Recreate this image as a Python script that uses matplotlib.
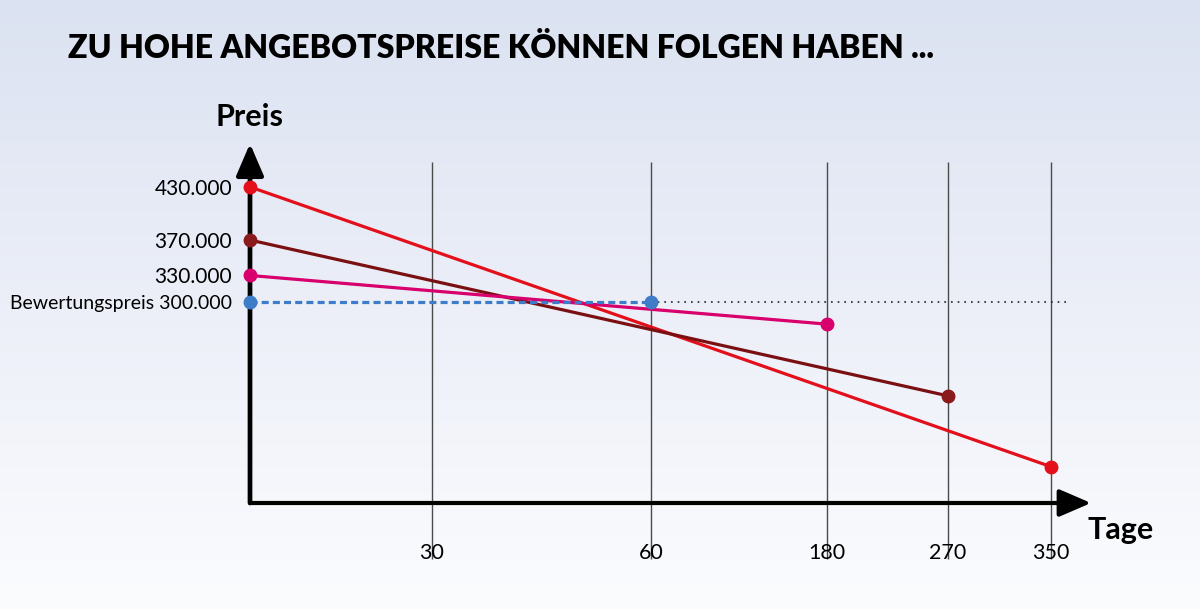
import numpy as np
import matplotlib
matplotlib.use("Agg")
import matplotlib.pyplot as plt
from matplotlib.colors import LinearSegmentedColormap

# ---- data ----
tick_days = [30, 60, 180, 270, 350]
tick_labels = ["30", "60", "180", "270", "350"]
y_ticks = [430, 370, 330, 300]
y_labels = ["430.000", "370.000", "330.000", "Bewertungspreis 300.000"]

red_days = [0, 350];    red_price = [430, 114]
brown_days = [0, 270];  brown_price = [370, 194]
pink_days = [0, 180];   pink_price = [330, 275]
blue_days = [0, 60];    blue_price = [300, 300]
ref_price = 300

# ---- piecewise x scale (schematic spacing) ----
D = np.array([0, 30, 60, 180, 270, 350], float)
P = np.array([0, 182, 401, 577, 698, 801], float)
s0 = (P[1] - P[0]) / (D[1] - D[0])
s1 = (P[-1] - P[-2]) / (D[-1] - D[-2])

def fwd(x):
    x = np.asarray(x, float)
    return np.where(x < 0, x * s0,
                    np.where(x > D[-1], P[-1] + (x - D[-1]) * s1, np.interp(x, D, P)))

def inv(p):
    p = np.asarray(p, float)
    return np.where(p < 0, p / s0,
                    np.where(p > P[-1], D[-1] + (p - P[-1]) / s1, np.interp(p, P, D)))

W, H = 1200, 609
fig = plt.figure(figsize=(12, 6.09), dpi=100)

# background gradient
bg = fig.add_axes([0, 0, 1, 1], zorder=-10)
cmap = LinearSegmentedColormap.from_list("bg", ["#dbe2f1", "#eceff8", "#fbfcfe"])
grad = np.linspace(0, 1, 256).reshape(-1, 1)
bg.imshow(grad, aspect="auto", cmap=cmap, extent=[0, 1, 0, 1], origin="upper")
bg.axis("off")

ax = fig.add_axes([250 / W, (H - 503) / H, 801 / W, 363 / H])
ax.set_facecolor("none")
ax.set_xscale("function", functions=(fwd, inv))
ax.set_xlim(0, 350)
ax.set_ylim(73, 483)
for s in ax.spines.values():
    s.set_visible(False)

# vertical grid lines
ax.vlines(tick_days, -0.155, 0.94, transform=ax.get_xaxis_transform(),
          colors="#4a4a4a", lw=1.0, clip_on=False, zorder=1)

# reference dotted line
ax.plot([60, 365], [ref_price, ref_price], ls=(0, (1, 3)), color="#222222",
        lw=1.2, clip_on=False, zorder=2)

lw = 2.3
ms = 9
ax.plot(red_days, red_price, color="#e3101c", lw=lw, zorder=4, clip_on=False)
ax.plot(brown_days, brown_price, color="#7a1012", lw=lw, zorder=4, clip_on=False)
ax.plot(pink_days, pink_price, color="#d8006c", lw=lw, zorder=4, clip_on=False)
ax.plot(blue_days, blue_price, color="#3c7cc8", lw=2.3, ls=(0, (2.2, 1.3)), zorder=4, clip_on=False)

for d, p, c in [(red_days, red_price, "#e3101c"), (brown_days, brown_price, "#8b1a1c"),
                (pink_days, pink_price, "#d8006c"), (blue_days, blue_price, "#3f7dc9")]:
    ax.plot(d, p, ls="none", marker="o", ms=ms, color=c, zorder=6, clip_on=False)

# axes arrows
astyle = "-|>,head_length=0.65,head_width=0.28"
ax.annotate("", xy=(0, 0.99), xytext=(0, 0), xycoords="axes fraction",
            arrowprops=dict(arrowstyle=astyle, lw=3.4, color="black",
                            mutation_scale=30, shrinkA=0, shrinkB=0), zorder=5)
ax.annotate("", xy=(1.05, 0), xytext=(0, 0), xycoords="axes fraction",
            arrowprops=dict(arrowstyle=astyle, lw=3.0, color="black",
                            mutation_scale=30, shrinkA=0, shrinkB=0), zorder=5)

font = "Lato"
ax.set_xticks(tick_days)
ax.set_xticklabels(tick_labels, fontfamily=font, fontsize=15.5)
ax.tick_params(axis="x", length=0, pad=29)
ax.set_yticks(y_ticks)
ax.set_yticklabels(y_labels, fontfamily=font, fontsize=15)
ax.tick_params(axis="y", length=0, pad=13)
ax.get_yticklabels()[-1].set_fontsize(14)

fig.text(250 / W, 1 - 117 / H, "Preis", ha="center", va="center",
         fontfamily=font, fontweight="bold", fontsize=22)
fig.text(1121 / W, 1 - 530 / H, "Tage", ha="center", va="center",
         fontfamily=font, fontweight="bold", fontsize=22)

fig.text(68 / W, 1 - 48 / H, "ZU HOHE ANGEBOTSPREISE KÖNNEN FOLGEN HABEN ...",
         ha="left", va="center", fontfamily=font,
         fontweight="heavy", fontsize=23)

fig.savefig("out.png", dpi=100)
